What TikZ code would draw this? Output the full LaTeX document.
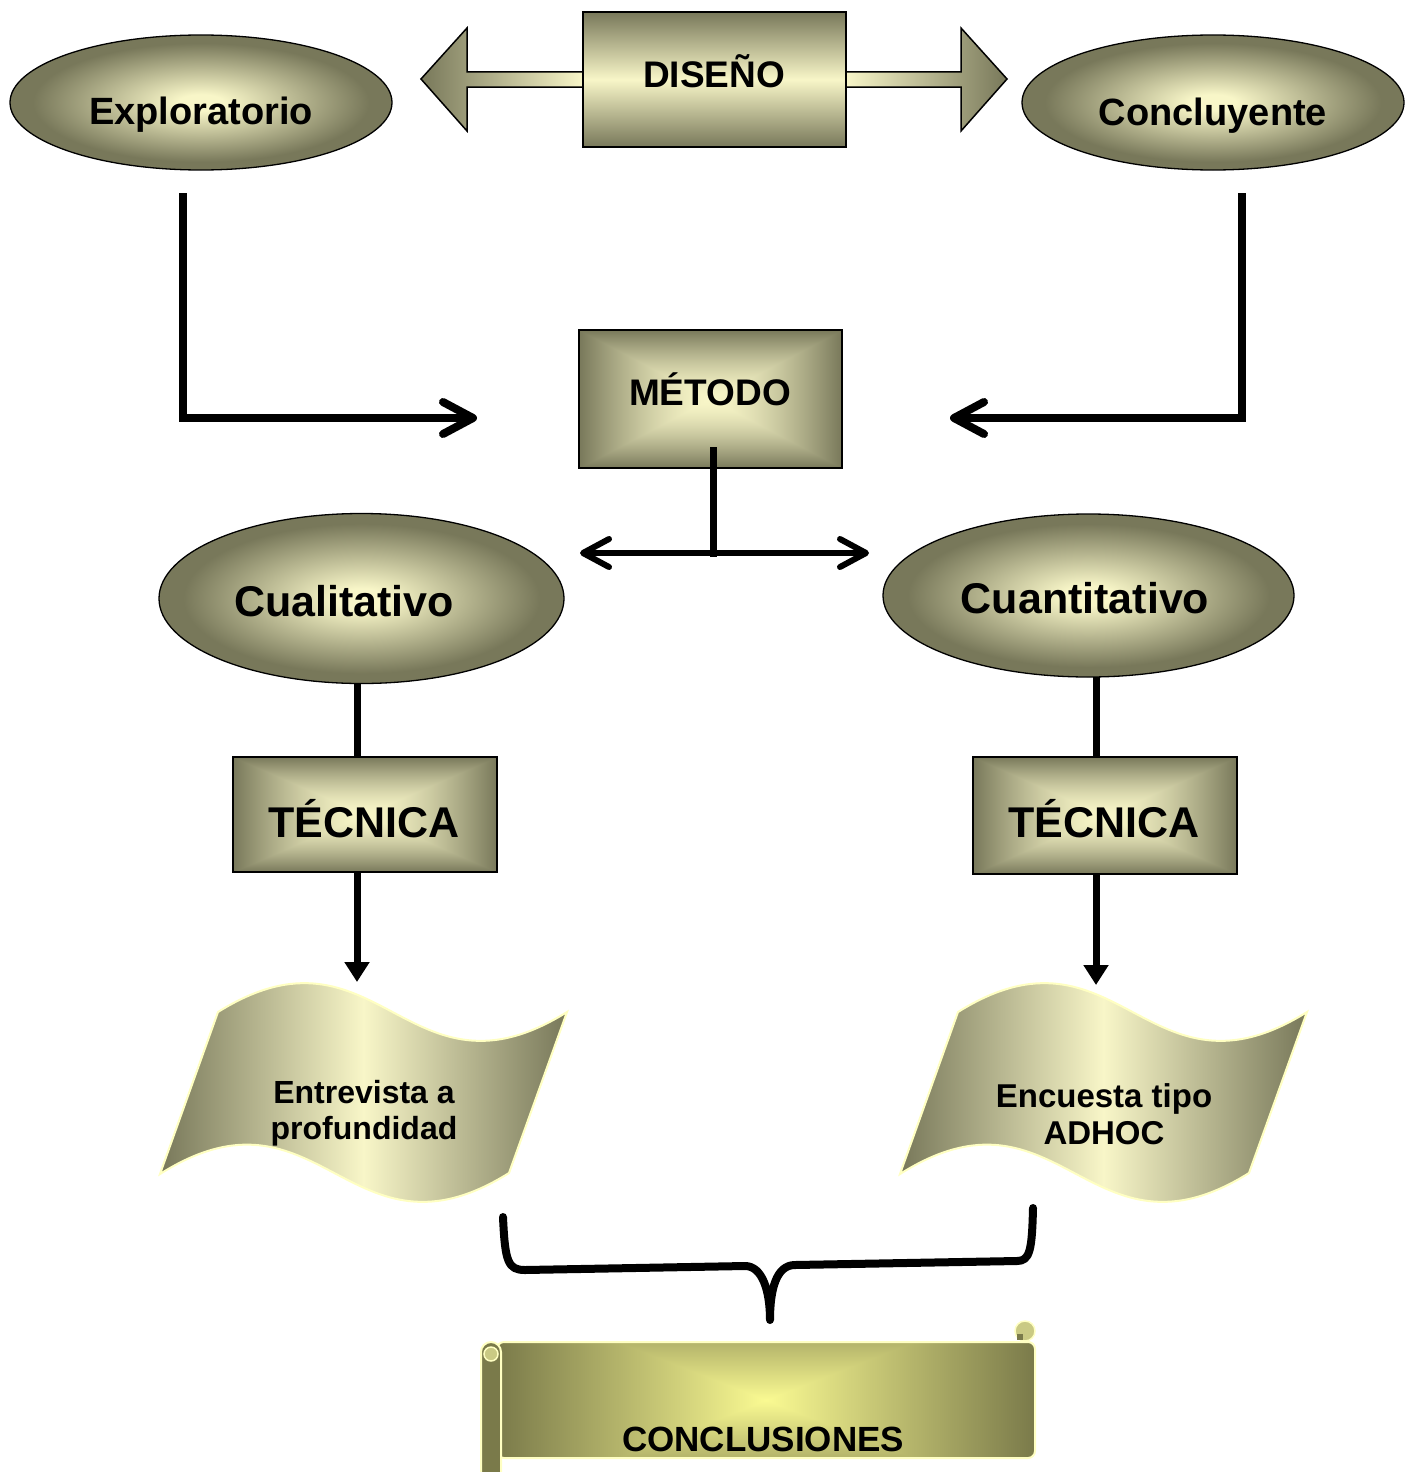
\documentclass[tikz,border=0pt]{standalone}
\usepackage{fontspec}
\setmainfont{Liberation Sans}
\usetikzlibrary{arrows.meta,shapes.geometric}
\definecolor{olD}{HTML}{78785A}
\definecolor{olL}{HTML}{F8F6C8}
\definecolor{scD}{HTML}{7A7A4A}
\definecolor{scL}{HTML}{FAFA92}
\definecolor{edgeY}{HTML}{FFFFC2}
\definecolor{curlC}{HTML}{CACA84}
\pgfdeclareradialshading{ellshade}{\pgfpoint{0bp}{0bp}}{color(0bp)=(olL); color(3bp)=(olL); color(22bp)=(olD); color(25bp)=(olD); color(50bp)=(olD)}
% rectangular (max-norm) gradient: light centre, dark edges
\pgfdeclarefunctionalshading{quadol}{\pgfpoint{-50bp}{-50bp}}{\pgfpoint{50bp}{50bp}}{}{
  abs exch abs 2 copy lt {exch} if pop
  25 div dup 1 gt {pop 1} if dup sqrt mul
  dup dup -0.502 mul 0.973 add 3 1 roll -0.494 mul 0.965 add exch -0.431 mul 0.784 add
}
\pgfdeclarefunctionalshading{quadsc}{\pgfpoint{-50bp}{-50bp}}{\pgfpoint{50bp}{50bp}}{}{
  abs 0.55 mul exch abs 2 copy lt {exch} if pop
  25 div dup 1 gt {pop 1} if
  dup dup -0.502 mul 0.980 add 3 1 roll -0.502 mul 0.980 add exch -0.283 mul 0.573 add
}
\tikzset{
  ell/.style={ellipse, draw=black, line width=1.3pt, shade, shading=ellshade, inner sep=0pt, outer sep=0pt},
  boxq/.style={rectangle, draw=black, line width=1.5pt, inner sep=0pt, outer sep=0pt, shade, shading=quadol},
  scrollbody/.style={rectangle, rounded corners=7pt, draw=edgeY, line width=2pt, inner sep=0pt, outer sep=0pt, shade, shading=quadsc},
  txt/.style={font=\bfseries\fontsize{#1}{#1}\selectfont, anchor=base, inner sep=0pt},
  bigline/.style={line width=8pt, -{Straight Barb[length=30pt,width=32pt,round]}},
  conn/.style={line width=7pt},
  wave/.style={draw=edgeY, line width=2pt, left color=olD, right color=olD, middle color=olL},
}
\begin{document}
\begin{tikzpicture}[x=1pt,y=-1pt]
\useasboundingbox (0,0) rectangle (1411,1472);
\fill[white] (0,0) rectangle (1411,1472);

% DISENO double arrow
\draw[line width=1.5pt, left color=olD, right color=olL] (583,72) -- (467,72) -- (467,28) -- (421,79) -- (467,131) -- (467,87) -- (583,87) -- cycle;
\draw[line width=1.5pt, left color=olL, right color=olD] (846,72) -- (961,72) -- (961,28) -- (1007,79) -- (961,131) -- (961,87) -- (846,87) -- cycle;
\node[rectangle, draw=black, line width=1.5pt, minimum width=263, minimum height=135, inner sep=0pt, outer sep=0pt, top color=olD, bottom color=olD, middle color=olL] (diseno) at (714.5,79.5) {};
\node[txt=37] (disenoT) at (714,87) {DISEÑO};

% top ellipses
\node[ell, minimum width=382, minimum height=135] (explo) at (201,102.5) {};
\node[txt=38] (exploT) at (201,124) {Exploratorio};
\node[ell, minimum width=382, minimum height=135] (concl) at (1213,102.5) {};
\node[txt=38] (conclT) at (1213,125) {Concluyente};

% METODO
\node[boxq, minimum width=263, minimum height=138] (metodo) at (710.5,399) {};
\node[txt=37] (metodoT) at (710,405) {MÉTODO};

\coordinate (eTop) at (183,193);
\coordinate (eTip) at (477,418);
\coordinate (cTop) at (1242,193);
\coordinate (cTip) at (950,418);
\draw[bigline] (eTop) |- (eTip);
\draw[bigline] (cTop) |- (cTip);

\coordinate (mIn) at (713,447);
\coordinate (mJ) at (713,557);
\coordinate (mL) at (580,553);
\coordinate (mR) at (869,553);
\draw[conn] (mIn) -- (mJ);
\draw[line width=6pt, {Straight Barb[length=26pt,width=28pt,round]}-{Straight Barb[length=26pt,width=28pt,round]}] (mL) -- (mR);

% middle ellipses
\node[ell, minimum width=405, minimum height=170] (cuali) at (361.5,598.5) {};
\node[txt=43] (cualiT) at (344,616) {Cualitativo};
\node[ell, minimum width=411, minimum height=163] (cuanti) at (1088.5,595.5) {};
\node[txt=43] (cuantiT) at (1085,613) {Cuantitativo};

% TECNICA boxes
\node[boxq, minimum width=264, minimum height=115] (tecL) at (365,814.5) {};
\node[txt=43] (tecLT) at (364,837) {TÉCNICA};
\node[boxq, minimum width=264, minimum height=117] (tecR) at (1105,815.5) {};
\node[txt=43] (tecRT) at (1104,837) {TÉCNICA};

\coordinate (wlTop) at (357,982);
\coordinate (wrTop) at (1096,985);
\draw[conn] (cuali.south -| wlTop) -- (tecL.north -| wlTop);
\draw[conn] (cuanti.south -| wrTop) -- (tecR.north -| wrTop);
\draw[conn, -{Triangle[length=20pt,width=24pt]}] (tecL.south -| wlTop) -- (wlTop);
\draw[conn, -{Triangle[length=20pt,width=24pt]}] (tecR.south -| wrTop) -- (wrTop);

% waves
\draw[wave] (218,1012) .. controls (378,912) and (407,1112) .. (567,1012) -- (509,1173) .. controls (349,1273) and (320,1073) .. (160,1174) -- cycle;
\node[font=\bfseries\fontsize{32}{36}\selectfont, align=center, inner sep=0pt] (wlT) at (364,1113) {Entrevista a\\profundidad};
\draw[wave] (958,1012) .. controls (1118,912) and (1147,1112) .. (1307,1012) -- (1249,1173) .. controls (1089,1273) and (1060,1073) .. (900,1174) -- cycle;
\node[font=\bfseries\fontsize{33}{37}\selectfont, align=center, inner sep=0pt] (wrT) at (1104,1114) {Encuesta tipo\\ADHOC};

% brace
\draw[line width=8pt, line cap=round, line join=round] (503,1217) .. controls (505,1262) and (508,1270) .. (525,1270) -- (745,1266) .. controls (762,1266) and (770,1290) .. (770,1320) .. controls (770,1290) and (776,1265) .. (795,1265) -- (1017,1261) .. controls (1030,1261) and (1032,1250) .. (1033,1208);

% scroll
\node[scrollbody, minimum width=538, minimum height=116] (conc) at (766,1400) {};
\draw[edgeY, line width=2pt, fill=scD] (481,1476) -- (481,1352) arc[start angle=180, end angle=0, radius=10pt] -- (501,1476);
\draw[edgeY, line width=1.5pt, fill=curlC] (491,1354) circle[radius=7pt];
\draw[edgeY, line width=1.5pt, fill=curlC] (1025,1331) circle[radius=10pt];
\fill[scD] (1017,1334) rectangle (1023,1340);
\node[txt=35] (concT) at (763,1451) {CONCLUSIONES};
\end{tikzpicture}
\end{document}
